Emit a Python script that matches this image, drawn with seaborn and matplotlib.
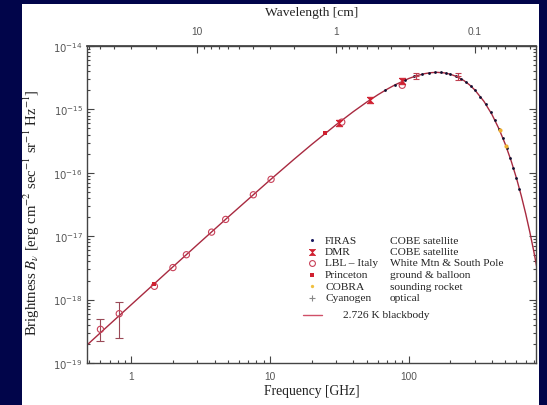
import numpy as np
import pandas as pd
import matplotlib
matplotlib.use("Agg")
import matplotlib.pyplot as plt
import seaborn as sns
from matplotlib.patches import Rectangle
from matplotlib.ticker import LogLocator, FuncFormatter, NullFormatter, FixedLocator

# ---------------- data ----------------
curve_freq = [0.45, 0.6, 1, 2, 3, 5, 10, 15, 20, 30, 40, 50, 60, 70, 80, 100,
              115, 130, 145, 160, 180, 200, 225, 250, 275, 300, 350, 400, 450,
              500, 550, 600, 650, 700, 750, 800, 850]
curve_bright = [1.689e-19, 2.999e-19, 8.30e-19, 3.291e-18, 7.34e-18, 2.003e-17,
                7.66e-17, 1.647e-16, 2.795e-16, 5.72e-16, 9.23e-16, 1.306e-15,
                1.698e-15, 2.082e-15, 2.443e-15, 3.062e-15, 3.411e-15, 3.656e-15,
                3.796e-15, 3.842e-15, 3.775e-15, 3.594e-15, 3.261e-15, 2.862e-15,
                2.441e-15, 2.034e-15, 1.336e-15, 8.26e-16, 4.874e-16, 2.774e-16,
                1.530e-16, 8.24e-17, 4.345e-17, 2.251e-17, 1.148e-17, 5.78e-18,
                2.87e-18]

firas_freq = [68, 80, 95, 110, 125, 140, 155, 170, 185, 200, 220, 240, 260, 280,
              300, 330, 360, 390, 420, 450, 480, 510, 540, 570, 600, 630]
firas_bright = [2.006e-15, 2.443e-15, 2.922e-15, 3.307e-15, 3.586e-15, 3.760e-15,
                3.835e-15, 3.824e-15, 3.739e-15, 3.594e-15, 3.334e-15, 3.024e-15,
                2.692e-15, 2.357e-15, 2.034e-15, 1.593e-15, 1.218e-15, 9.13e-16,
                6.72e-16, 4.874e-16, 3.49e-16, 2.469e-16, 1.728e-16, 1.198e-16,
                8.24e-17, 5.63e-17]

dmr_freq = [31.5, 53, 90]
dmr_bright = [6.2e-16, 1.42e-15, 2.8e-15]

lbl_freq = [0.6, 0.82, 1.47, 2.0, 2.5, 3.8, 4.8, 7.6, 10.2, 33, 90]
lbl_bright = [3.4e-19, 6.0e-19, 1.62e-18, 3.2e-18, 5.1e-18, 1.16e-17, 1.84e-17,
              4.5e-17, 7.9e-17, 6.3e-16, 2.4e-15]
lbl_err_freq = [0.6, 0.82]
lbl_err_bright = [3.4e-19, 6.0e-19]
lbl_err_low = [1.2e-19, 3.5e-19]
lbl_err_high = [1.6e-19, 3.3e-19]

princeton_freq = [1.47, 25]
princeton_bright = [1.75e-18, 4.2e-16]

cobra_freq = [454, 502]
cobra_bright = [4.7e-16, 2.6e-16]

cyan_freq = [113.6, 227]
cyan_bright = [3.38e-15, 3.35e-15]
cyan_err = [0.35e-15, 0.4e-15]

legend_names = ["FIRAS", "DMR", "LBL \u2013 Italy", "Princeton", "COBRA", "Cyanogen"]
legend_desc = ["COBE satellite", "COBE satellite", "White Mtn & South Pole",
               "ground & balloon", "sounding rocket", "optical"]
curve_label = "2.726 K blackbody"

x_ticks = [1, 10, 100]
wl_ticks = [10, 1, 0.1]
y_exponents = [-19, -18, -17, -16, -15, -14]

# ---------------- style ----------------
sns.set_theme(style="ticks")
plt.rcParams["font.family"] = ["Liberation Serif", "DejaVu Serif"]
plt.rcParams["mathtext.fontset"] = "dejavusans"

NAVY = "#01054a"
LINE = "#a82a40"
RED = "#d02030"
GRAY = "#555555"
AX = "#444444"

W, H = 547, 406
fig = plt.figure(figsize=(W / 100, H / 100), dpi=100, facecolor=NAVY)
fig.add_artist(Rectangle((22 / W, 0), (539 - 22) / W, (406 - 5) / H,
                         transform=fig.transFigure, facecolor="white",
                         edgecolor="none", zorder=-5))

L, R, T, B = 87, 536, 47, 364
ax = fig.add_axes([L / W, 1 - B / H, (R - L) / W, (B - T) / H])
ax.set_facecolor("white")
ax.set_xscale("log")
ax.set_yscale("log")

# curve
sns.lineplot(x=curve_freq, y=curve_bright, ax=ax, color=LINE, lw=1.0,
             sort=False, estimator=None, zorder=2)
# FIRAS
sns.scatterplot(x=firas_freq, y=firas_bright, ax=ax, color="#101030", s=4,
                linewidth=0, zorder=4)
# COBRA
sns.scatterplot(x=cobra_freq, y=cobra_bright, ax=ax, color="#f0b030", s=9,
                linewidth=0, zorder=4)
# LBL errorbars + circles
ax.errorbar(lbl_err_freq, lbl_err_bright, yerr=[lbl_err_low, lbl_err_high],
            fmt="none", ecolor="#9a4a58", elinewidth=0.8, capsize=3, capthick=0.8,
            zorder=3)
sns.scatterplot(x=lbl_freq, y=lbl_bright, ax=ax, marker="o", s=20,
                facecolor="none", edgecolor="#c84058", linewidth=0.8, zorder=5)
# Princeton
sns.scatterplot(x=princeton_freq, y=princeton_bright, ax=ax, marker="s", s=12,
                color=RED, linewidth=0, zorder=5)
# DMR hourglass
hourglass = [(-1, 1), (1, 1), (-1, -1), (1, -1), (-1, 1)]
sns.scatterplot(x=dmr_freq, y=dmr_bright, ax=ax, marker=hourglass, s=22,
                color=RED, edgecolor=RED, linewidth=0.6, zorder=5)
# Cyanogen
ax.errorbar(cyan_freq, cyan_bright, yerr=cyan_err, fmt="+", color="#c04050",
            ms=5, mew=0.8, elinewidth=0.8, capsize=2.5, capthick=0.8, zorder=5)

ax.set_xlim(0.48, 830)
ax.set_ylim(1e-19, 1e-14)

# ticks
ax.xaxis.set_major_locator(FixedLocator(x_ticks))
ax.xaxis.set_minor_locator(LogLocator(base=10, subs=np.arange(2, 10), numticks=50))
ax.xaxis.set_major_formatter(FuncFormatter(lambda v, p: f"{v:g}"))
ax.xaxis.set_minor_formatter(NullFormatter())
ax.yaxis.set_major_locator(FixedLocator([10.0 ** e for e in y_exponents]))
ax.yaxis.set_minor_locator(LogLocator(base=10, subs=np.arange(2, 10), numticks=50))
ax.yaxis.set_major_formatter(FuncFormatter(
    lambda v, p: "$10^{%d}$" % int(round(np.log10(v)))))
ax.yaxis.set_minor_formatter(NullFormatter())

ax.tick_params(which="both", direction="in", color=AX, width=0.8,
               labelcolor=GRAY, labelsize=7.3, labelfontfamily="Liberation Sans",
               right=True, top=False)
ax.tick_params(which="major", length=5)
ax.tick_params(which="minor", length=2.5)
ax.tick_params(axis="x", pad=5.5)
ax.tick_params(axis="y", pad=3)
for s in ax.spines.values():
    s.set_color(AX)
    s.set_linewidth(1.0)
    s.set_visible(True)

C = 29.9792458
sec = ax.secondary_xaxis("top", functions=(lambda f: C / f, lambda l: C / l))
sec.xaxis.set_major_locator(FixedLocator(wl_ticks))
sec.xaxis.set_minor_locator(LogLocator(base=10, subs=np.arange(2, 10), numticks=50))
sec.xaxis.set_major_formatter(FuncFormatter(lambda v, p: f"{v:g}"))
sec.xaxis.set_minor_formatter(NullFormatter())
sec.tick_params(which="both", direction="in", color=AX, width=0.8,
                labelcolor=GRAY, labelsize=7.3, labelfontfamily="Liberation Sans", pad=7)
sec.tick_params(which="major", length=5)
sec.tick_params(which="minor", length=2.5)
sec.spines["top"].set_color(AX)

# labels
ax.set_xlabel("Frequency [GHz]", fontsize=9.8, color="#222222")
ax.xaxis.set_label_coords(0.5, (B - 385) / (B - T))
ax.set_ylabel(r"Brightness $B_\nu$ [erg cm$^{-2}$ sec$^{-1}$ sr$^{-1}$ Hz$^{-1}$]",
              fontsize=10.6, color="#222222", math_fontfamily="stix")
ax.yaxis.set_label_coords((42 - L) / (R - L), 0.476)
fig.text(311.5 / W, 1 - 13 / H, "Wavelength [cm]", fontsize=9.7, color="#222222",
         ha="center", va="center")

# legend (drawn by hand to keep the two-column layout)
def fx(px):
    return (px - L) / (R - L)

def fy(py):
    return (B - py) / (B - T)

rows = [241, 252.5, 264, 275.5, 287, 298.5]
mk = dict(transform=ax.transAxes, clip_on=False, ls="none")
ax.plot(fx(312), fy(rows[0]), marker="o", ms=2.2, color="#1a1a60", mew=0, **mk)
ax.plot(fx(312), fy(rows[1]), marker=hourglass, ms=4.5, color=RED, mew=0.5, **mk)
ax.plot(fx(312), fy(rows[2]), marker="o", ms=4.2, mfc="none", mec="#c84058", mew=0.8, **mk)
ax.plot(fx(312), fy(rows[3]), marker="s", ms=3.2, color=RED, mew=0, **mk)
ax.plot(fx(312), fy(rows[4]), marker="o", ms=2.4, color="#f0c040", mew=0, **mk)
ax.plot(fx(312), fy(rows[5]), marker="+", ms=4.5, color="#888888", mew=0.8, **mk)
for r, n, d in zip(rows, legend_names, legend_desc):
    ax.text(fx(325), fy(r), n, transform=ax.transAxes, fontsize=8.2,
            color="#222222", va="center", ha="left")
    ax.text(fx(390), fy(r), d, transform=ax.transAxes, fontsize=8.2,
            color="#222222", va="center", ha="left")
ax.plot([fx(303), fx(322)], [fy(316), fy(316)], color="#d05068", lw=1.0,
        transform=ax.transAxes, clip_on=False)
ax.text(fx(343), fy(316), curve_label, transform=ax.transAxes, fontsize=8.2,
        color="#222222", va="center", ha="left")

fig.savefig("out.png", dpi=100, facecolor=NAVY)
